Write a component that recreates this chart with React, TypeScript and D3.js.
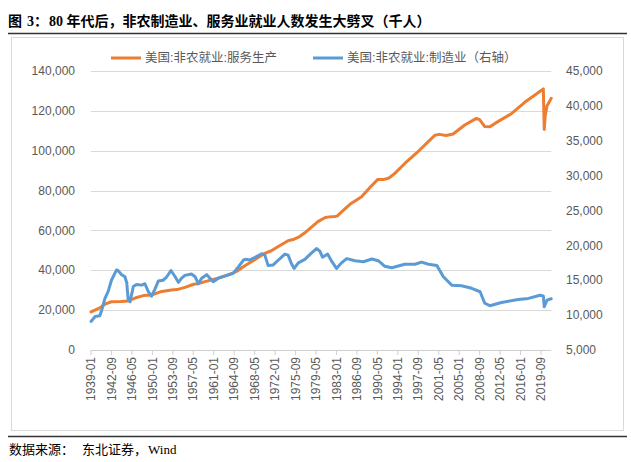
import React from "react";
import * as d3 from "d3";

const START_YEAR = 1939;

// 美国:非农就业:服务生产 (left axis, thousands)
const serviceDates = [
  "1939-01","1940-07","1941-07","1942-09","1944-06","1945-09","1947-01","1948-06","1949-11","1951-06",
  "1953-06","1954-06","1955-11","1957-06","1958-03","1959-06","1961-10","1963-06","1964-06","1965-06",
  "1966-08","1968-05","1970-03","1971-05","1972-07","1974-05","1975-06","1976-05","1977-05","1979-09",
  "1981-01","1981-10","1982-10","1983-03","1984-06","1985-06","1987-07","1989-01","1990-06","1991-06",
  "1992-06","1993-06","1995-04","1997-06","2000-09","2001-06","2002-09","2003-12","2006-01","2008-02",
  "2008-09","2009-08","2010-07","2011-06","2014-06","2016-10","2020-02","2020-04","2020-06","2020-10",
  "2021-07",
];
const serviceValues = [
  19100,21000,23000,24200,24300,24600,26200,27300,27600,29200,
  30100,30300,31400,33000,33200,34300,36000,37600,38600,40000,
  42300,45300,48500,49800,51800,54800,55600,56800,58800,64400,
  66500,66800,67000,67300,70600,73100,76900,81500,85600,85500,
  86300,88500,93600,99000,107800,108200,107600,108400,112900,116200,
  115600,112100,112000,113700,118700,124300,131000,110700,117500,122500,
  126300,
];

// 美国:非农就业:制造业 (right axis, thousands)
const mfgDates = [
  "1939-01","1939-10","1940-08","1940-12","1941-07","1942-02","1942-09","1943-08","1943-11","1944-07",
  "1945-02","1945-06","1945-09","1946-01","1946-08","1947-03","1948-02","1948-09","1949-04","1949-11",
  "1950-07","1951-02","1951-12","1952-07","1953-05","1954-02","1954-09","1955-04","1955-11","1957-01",
  "1957-09","1958-04","1958-11","1959-10","1960-05","1960-12","1961-11","1963-01","1964-07","1965-06",
  "1966-05","1966-09","1967-06","1968-06","1969-08","1970-03","1970-10","1971-09","1972-08","1973-10",
  "1974-05","1974-12","1975-06","1976-03","1977-05","1978-07","1979-06","1980-01","1980-07","1981-06",
  "1982-03","1983-01","1983-12","1984-11","1986-05","1987-11","1989-05","1990-07","1991-09","1992-12",
  "1995-04","1997-02","1998-04","1999-07","2001-01","2002-03","2003-09","2005-06","2007-04","2008-10",
  "2009-08","2010-07","2012-08","2015-08","2017-06","2019-07","2020-02","2020-04","2020-10","2021-07",
];
const mfgValues = [
  9100,9800,9900,10700,12400,13400,15000,16500,16400,15800,
  15500,14600,12200,11900,14100,14400,14300,14500,13400,12700,
  13800,14900,15000,15400,16400,15500,14700,15300,15700,15900,
  15500,14500,15300,15800,15300,14800,15300,15600,16000,16900,
  17900,18000,17900,18300,18800,18600,17100,17200,17900,18750,
  18600,17400,16700,17500,18000,18900,19550,19200,18300,18750,
  17700,16700,17500,18100,17800,17650,18050,17800,17000,16800,
  17300,17300,17600,17300,17100,15500,14300,14200,13850,13350,
  11700,11350,11800,12250,12400,12850,12750,11200,12150,12350,
];

const xTickLabels = [
  "1939-01","1942-09","1946-05","1950-01","1953-09","1957-05","1961-01","1964-09","1968-05","1972-01",
  "1975-09","1979-05","1983-01","1986-09","1990-05","1994-01","1997-09","2001-05","2005-01","2008-09",
  "2012-05","2016-01","2019-09",
];
const leftTicks = [0, 20000, 40000, 60000, 80000, 100000, 120000, 140000];
const rightTicks = [5000, 10000, 15000, 20000, 25000, 30000, 35000, 40000, 45000];

const seriesNames = ["美国:非农就业:服务生产", "美国:非农就业:制造业（右轴）"];
const colors = ["#ED7D31", "#5B9BD5"];

const titleBody = "80 年代后，非农制造业、服务业就业人数发生大劈叉（千人）";
const sourceHead = "数据来源：";
const sourceBody = "东北证券，Wind";

const monthIndex = (s: string) => {
  const [y, m] = s.split("-").map(Number);
  return (y - START_YEAR) * 12 + (m - 1);
};

export default function App() {
  const W = 631, H = 462;
  const plotLeft = 91, plotTop = 71, plotBottom = 350;
  const lastIdx = monthIndex("2021-07");
  const pxPerMonth = 450 / 968;
  const x = d3.scaleLinear().domain([0, lastIdx]).range([plotLeft, plotLeft + lastIdx * pxPerMonth]);
  const yL = d3.scaleLinear().domain([0, 140000]).range([plotBottom, plotTop]);
  const yR = d3.scaleLinear().domain([5000, 45000]).range([plotBottom, plotTop]);
  const plotRight = x(lastIdx);

  const svcPts = serviceDates.map((d, i) => [monthIndex(d), serviceValues[i]] as [number, number]);
  const mfgPts = mfgDates.map((d, i) => [monthIndex(d), mfgValues[i]] as [number, number]);
  const lineL = d3.line<[number, number]>().x(d => x(d[0])).y(d => yL(d[1]));
  const lineR = d3.line<[number, number]>().x(d => x(d[0])).y(d => yR(d[1]));
  const fmt = d3.format(",");
  const axisFont = "'Liberation Sans', Arial, sans-serif";
  const cjkSans = "'Liberation Sans', 'Noto Sans CJK SC', sans-serif";
  const serif = "'Liberation Serif', 'Times New Roman', 'Noto Sans CJK SC', serif";

  return (
    <svg width={W} height={H} style={{ position: "absolute", left: 0, top: 0, background: "#fff" }}>
      <text x={8} y={26} fontFamily={serif} fontWeight="bold" fontSize={14} fill="#000">
        <tspan>图</tspan><tspan dx={5}>3：</tspan><tspan dx={1}>{titleBody}</tspan>
      </text>
      <line x1={8} x2={627} y1={33.5} y2={33.5} stroke="#333" strokeWidth={1.3} />
      <rect x={11.5} y={37.5} width={612} height={393} fill="none" stroke="#d9d9d9" strokeWidth={1} />
      <line x1={8} x2={627} y1={436.5} y2={436.5} stroke="#333" strokeWidth={1.3} />
      <text x={9} y={454} fontFamily={serif} fontSize={13} fill="#000">
        <tspan>{sourceHead}</tspan><tspan dx={8}>{sourceBody.slice(0, 5)}</tspan><tspan dx={1}>{sourceBody.slice(5)}</tspan>
      </text>

      {leftTicks.filter(t => t > 0).map(t => (
        <line key={t} x1={plotLeft} x2={plotRight} y1={Math.round(yL(t)) + 0.5} y2={Math.round(yL(t)) + 0.5} stroke="#d9d9d9" strokeWidth={1} />
      ))}
      <line x1={plotLeft} x2={plotRight} y1={plotBottom + 0.5} y2={plotBottom + 0.5} stroke="#d0d0d0" strokeWidth={1} />
      {xTickLabels.map(l => {
        const xx = x(monthIndex(l));
        return (
          <g key={l}>
            <line x1={xx} x2={xx} y1={plotBottom} y2={plotBottom + 5} stroke="#d0d0d0" />
            <text transform={`translate(${xx},${plotBottom + 7}) rotate(-90)`} textAnchor="end" dy="0.35em"
              fontFamily={axisFont} fontSize={12} fill="#595959">{l}</text>
          </g>
        );
      })}
      {leftTicks.map(t => (
        <text key={t} x={75} y={yL(t)} dy="0.35em" textAnchor="end" fontFamily={axisFont} fontSize={12} fill="#595959">{fmt(t)}</text>
      ))}
      {rightTicks.map(t => (
        <text key={t} x={566} y={yR(t)} dy="0.35em" textAnchor="start" fontFamily={axisFont} fontSize={12} fill="#595959">{fmt(t)}</text>
      ))}

      <path d={lineL(svcPts) || ""} fill="none" stroke={colors[0]} strokeWidth={3} strokeLinejoin="round" strokeLinecap="round" />
      <path d={lineR(mfgPts) || ""} fill="none" stroke={colors[1]} strokeWidth={3} strokeLinejoin="round" strokeLinecap="round" />

      <line x1={111} x2={141} y1={58} y2={58} stroke={colors[0]} strokeWidth={3} />
      <text x={145} y={58} dy="0.35em" fontFamily={cjkSans} fontSize={12.5} fill="#595959">{seriesNames[0]}</text>
      <line x1={313} x2={343} y1={58} y2={58} stroke={colors[1]} strokeWidth={3} />
      <text x={347} y={58} dy="0.35em" fontFamily={cjkSans} fontSize={12.5} fill="#595959">{seriesNames[1]}</text>
    </svg>
  );
}
